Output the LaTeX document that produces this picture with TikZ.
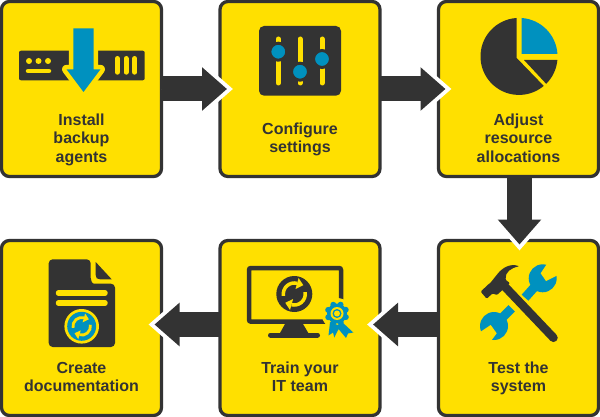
\documentclass[tikz,border=0pt]{standalone}
\usepackage{fontspec}
\setmainfont{Liberation Sans}
\usetikzlibrary{arrows.meta}
\usetikzlibrary{positioning}
\definecolor{boxyellow}{HTML}{FFE000}
\definecolor{darkgrey}{HTML}{333333}
\definecolor{iconblue}{HTML}{0091BF}
\tikzset{
  node distance = 64pt and 58.5pt,
  stepbox/.style = {rectangle,
                    draw = darkgrey,
                    fill = boxyellow,
                    line width = 3.3pt,
                    rounded corners = 8pt,
                    minimum width = 160pt,
                    minimum height = 175pt,
                    outer sep = 0pt},
  steplabel/.style = {align = center,
                      font = \fontsize{16}{18.5}\selectfont\bfseries,
                      text = darkgrey,
                      execute at end node = {\vphantom{g}},
                      inner sep = 0pt},
  flow/.style = {darkgrey,
                 line width = 25pt,
                 shorten > = -#1pt,
                 -{Triangle[length = 25pt, width = 42pt]},
                 preaction = {draw = white,
                              shorten > = -#1pt-6pt,
                              -{Triangle[length = 31pt, width = 52pt]}}},
  flow/.default = 7,
  darkbar/.style = {darkgrey, line cap = round},
  yellowbar/.style = {boxyellow, line cap = round},
  syncicon/.pic = {
    \foreach \a in {0,180}{
      \begin{scope}[rotate = \a]
        \draw[line width = #1, boxyellow] (170:11) arc[start angle = 170, end angle = 285, radius = 11];
        \fill[boxyellow] (1.2,-5) -- (4.3,-16) -- (9,-8.8) -- cycle;
      \end{scope}
    }
  }
}
\begin{document}
\begin{tikzpicture}[x = 1pt, y = -1pt]
\useasboundingbox (0,0) rectangle (600,417);

\node[stepbox](step-install) at (81.5,89){};
\node[stepbox](step-configure)[right = of step-install]{};
\node[stepbox](step-adjust)[right = of step-configure]{};
\node[stepbox](step-test)[below = of step-adjust]{};
\node[stepbox](step-train)[left = of step-test]{};
\node[stepbox](step-create)[left = of step-train]{};

\node[steplabel](label-install) at ([yshift = 37pt]step-install.south){Install\\backup\\agents};
\node[steplabel](label-configure) at ([yshift = 37pt]step-configure.south){Configure\\settings};
\node[steplabel](label-adjust) at ([yshift = 37pt]step-adjust.south){Adjust\\resource\\allocations};
\node[steplabel](label-test) at ([yshift = 37pt]step-test.south){Test the\\system};
\node[steplabel](label-train) at ([yshift = 37pt]step-train.south){Train your\\IT team};
\node[steplabel](label-create) at ([yshift = 37pt]step-create.south){Create\\documentation};

\fill[darkgrey, rounded corners = 2pt] (19,50.7) rectangle (144.7,80.3);
\foreach \x in {29,38.5,48}
  \fill[boxyellow] (\x,61) circle (3);
\draw[yellowbar, line width = 4.5pt] (28,71) -- (49,71);
\foreach \x in {117.3,126,134.7}
  \draw[yellowbar, line width = 5pt] (\x,58.5) -- (\x,72.2);
\path[fill = iconblue, preaction = {draw = boxyellow, line width = 9pt, line join = round}]
  (73.3,28.3) -- (93.7,28.3) -- (93.7,69.3) -- (100.5,69.3) -- (83.5,92) -- (66.5,69.3) -- (73.3,69.3) -- cycle;

\fill[darkgrey, rounded corners = 5pt] (259,26) rectangle (341,95.7);
\foreach \x in {278.3,300,322}
  \draw[yellowbar, line width = 5pt] (\x,39) -- (\x,83);
\foreach \x/\y in {278.3/51.7,300/71.7,322/59}
  \filldraw[draw = darkgrey, fill = iconblue, line width = 3pt] (\x,\y) circle (8.5);

\fill[darkgrey] (516.7,58) -- (516.7,18) arc[start angle = 266.6, end angle = 50, radius = 38.5] -- cycle;
\fill[iconblue] (521.7,54) -- (521.7,18) arc[start angle = -86, end angle = -3.7, radius = 38.5] -- cycle;
\fill[darkgrey] (524,60) -- (557.4,60) arc[start angle = 5.2, end angle = 45.2, radius = 38.5] -- cycle;

\fill[iconblue] (542.7,278.3) circle (14);
\fill[boxyellow] (540.7,273.3) -- (547.3,263.3) -- (561.7,273.3) -- (546,281) -- cycle;
\draw[iconblue, line width = 9pt] (539,282) -- (525,297.7);
\fill[iconblue] (494,326) circle (14);
\fill[boxyellow] (490.7,325) -- (476.7,334.3) -- (486.7,346.7) -- (496.7,333.3) -- cycle;
\draw[iconblue, line width = 9pt] (498,322) -- (511.7,308.3);
\draw[darkgrey, line width = 8.5pt, line cap = round] (503.3,285) -- (553.5,337.8);
\fill[darkgrey, rounded corners = 1pt] (480.7,291.7) -- (486.7,298.7) -- (492.5,293.5) -- (497,295) -- (510,283) -- (505.7,280)
  .. controls (505,272) and (511,268) .. (519.3,266.3)
  .. controls (510,263) and (502,268) .. (496.7,275) -- (490,283.3) -- (488.3,284.3) -- cycle;

\draw[darkgrey, line width = 4.5pt, rounded corners = 2pt] (249,268) rectangle (341,321.7);
\fill[darkgrey] (285,324) -- (303,324) -- (308.3,333) -- (280,333) -- cycle;
\draw[darkbar, line width = 5pt] (270.5,335) -- (317.5,335);
\fill[darkgrey] (294.3,294) circle (18);
\pic at (294.3,294){syncicon = 3.5pt};
\fill[boxyellow] (337,313.5) circle (15.5);
\path[fill = iconblue, preaction = {draw = boxyellow, line width = 3pt, line join = round}]
  (330,322) -- (340,326) -- (334.3,337.5) -- (333,332.5) -- (328.5,335.5) -- cycle
  (342,322) -- (353.3,332.5) -- (348,333.5) -- (346,338) -- (336,326) -- cycle;
\foreach \a in {0,45,...,315}
  \fill[iconblue] (337,313.5) ++(\a+22:9.5) circle (3);
\fill[iconblue] (337,313.5) circle (10);
\fill[boxyellow] (337,313.5) circle (6.5);
\fill[iconblue] (337,313.5) circle (4.5);
\fill[boxyellow] (337,313.5) circle (3);

\fill[darkgrey, rounded corners = 4pt] (48.7,259.3) -- (90.7,259.3) -- (90.7,274)
  .. controls (90.7,280) and (92,283.7) .. (98,283.7) -- (115,283.7) -- (115,347) -- (48.7,347) -- cycle;
\fill[darkgrey] (95.7,262) -- (111.7,279.3) -- (100,279.3) .. controls (97,279.3) and (95.7,278) .. (95.7,275) -- cycle;
\draw[yellowbar, line width = 5.5pt] (58.5,293) -- (105,293);
\draw[yellowbar, line width = 5.5pt] (58.5,303) -- (105,303);
\fill[boxyellow] (81.7,326.3) circle (17.3);
\fill[iconblue] (81.7,326.3) circle (14.5);
\pic[scale = 0.8] at (81.7,326.3){syncicon = 2.8pt};

\draw[flow](step-install.east) -- (step-configure.west);
\draw[flow](step-configure.east) -- (step-adjust.west);
\draw[flow = 4]([xshift = 1pt]step-adjust.south) -- ([xshift = 1pt]step-test.north);
\draw[flow]([yshift = 3.5pt]step-test.west) -- ([yshift = 3.5pt]step-train.east);
\draw[flow]([yshift = 3.5pt]step-train.west) -- ([yshift = 3.5pt]step-create.east);

\end{tikzpicture}
\end{document}
